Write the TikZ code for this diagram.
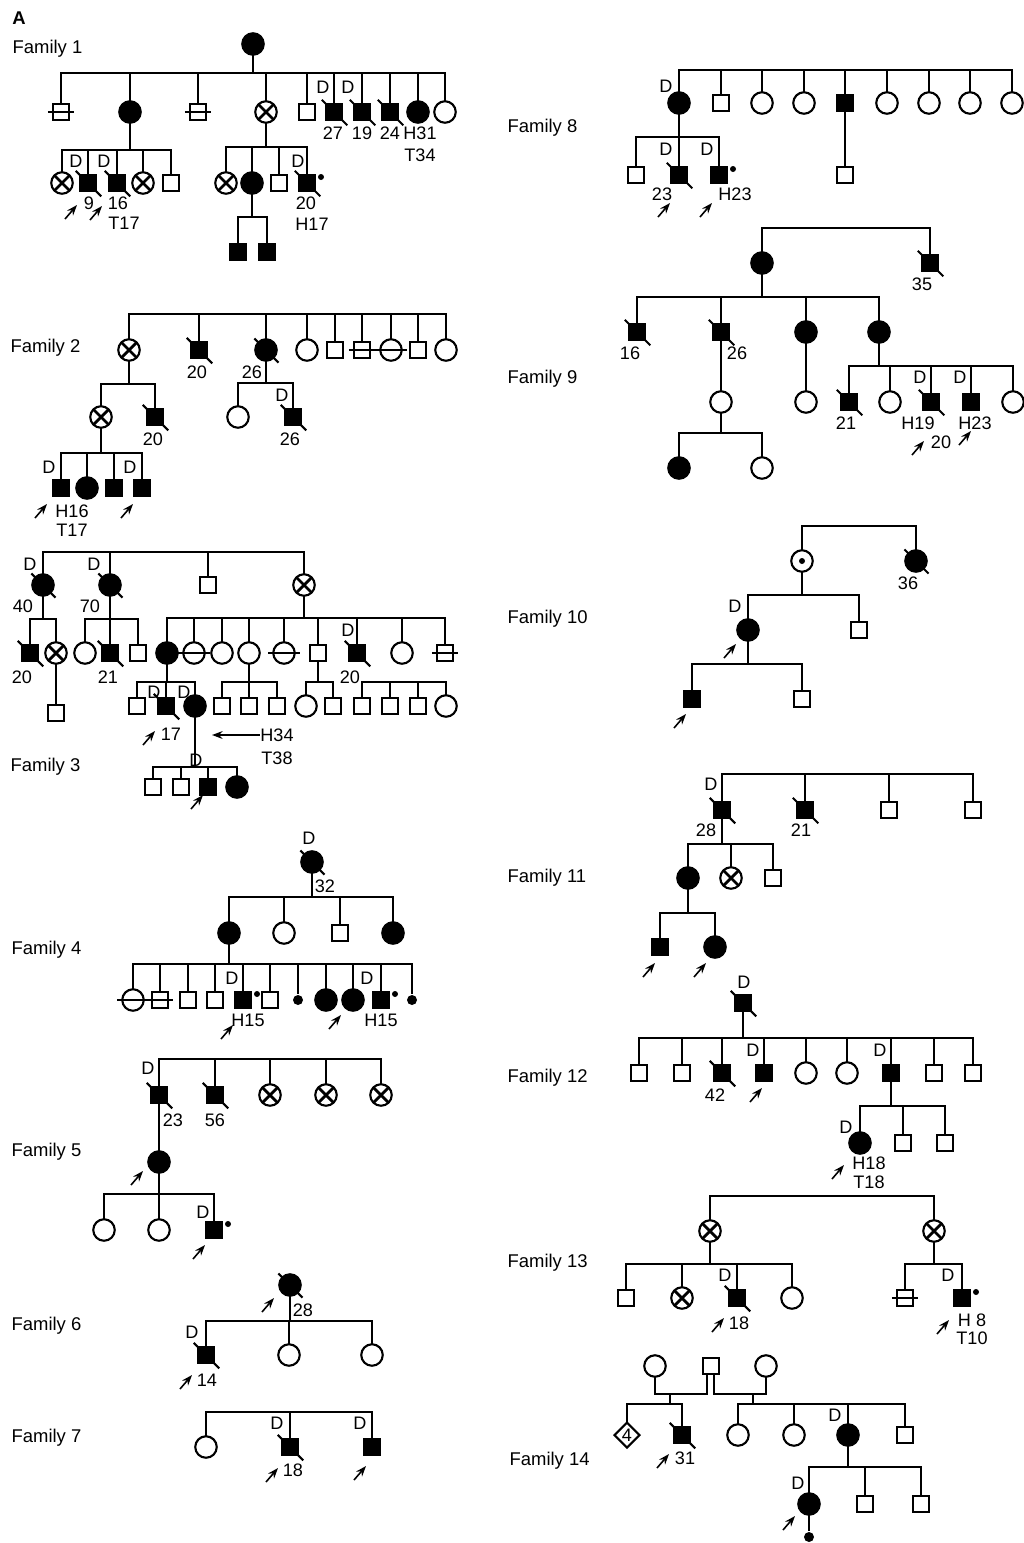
\documentclass[tikz,border=0pt]{standalone}
\usepackage{fontspec}
\setmainfont{Liberation Sans}
\usepackage{tikz}
\usetikzlibrary{arrows.meta, shapes.geometric}

\newcommand{\lblfont}{\fontsize{10.3}{12}\selectfont}

\tikzset{
	ind/.style={draw, line width=1.2pt, inner sep=0pt, outer sep=0pt},
	ma/.style={ind, rectangle, minimum size=0.33cm},
	maf/.style={ma, fill=black},
	fe/.style={ind, circle, minimum size=0.43cm},
	fef/.style={fe, fill=black},
	car/.style={fe, path picture={\draw[line width=1.6pt]
		(path picture bounding box.north west) -- (path picture bounding box.south east)
		(path picture bounding box.south west) -- (path picture bounding box.north east);}},
	obl/.style={fe, path picture={\fill (path picture bounding box.center) circle (0.06cm);}},
	misc/.style={circle, fill=black, inner sep=0pt, minimum size=0.2cm},
	dia/.style={ind, diamond, minimum size=0.5cm, font=\lblfont},
	lab/.style={inner sep=0pt, font=\lblfont},
	fam/.style={anchor=west, inner sep=0pt, font=\fontsize{10.5}{12}\selectfont},
	pb/.style={-{Stealth[length=6pt, width=4.4pt]}, line width=0.9pt},
	dtick/.style={line width=1.2pt},
	dstrike/.style={line width=1.2pt},
}

\begin{document}
\begin{tikzpicture}[x=0.02cm, y=-0.02cm, line width=0.7pt]
\useasboundingbox (0,0) rectangle (1024,1543);
\node[inner sep=0pt, font=\bfseries\fontsize{10.5}{12}\selectfont] (panel) at (19,18) {A};

% Family 1
\node[fam] (fam1) at (12,49) {Family 1};
\node[fef] (f1a) at (253,44) {};
\foreach \i/\x/\st in {1/61/ma, 2/130/fef, 3/198/ma, 4/266/car, 5/307/ma, 6/334/maf, 7/362/maf, 8/390/maf, 9/418/fef, 10/445/fe}
	\node[\st] (f1b\i) at (\x,112) {};
\coordinate (f1s1) at (253,73);
\draw (f1a) -- (f1s1);
\foreach \i in {1,...,10} \draw (f1s1) -| (f1b\i);
\foreach \i/\x/\st in {1/62/car, 2/88/maf, 3/117/maf, 4/143/car, 5/171/ma, 6/226/car, 7/252/fef, 8/279/ma, 9/307/maf}
	\node[\st] (f1c\i) at (\x,183) {};
\coordinate (f1s2) at (130,150);
\coordinate (f1s3) at (266,147);
\draw (f1b2) -- (f1s2) (f1b4) -- (f1s3);
\foreach \i in {1,...,5} \draw (f1s2) -| (f1c\i);
\foreach \i in {6,...,9} \draw (f1s3) -| (f1c\i);
\foreach \i/\x in {1/238, 2/267} \node[maf] (f1d\i) at (\x,252) {};
\coordinate (f1s4) at (252,217);
\draw (f1c7) -- (f1s4);
\foreach \i in {1,2} \draw (f1s4) -| (f1d\i);
\foreach \x/\y [count=\k] in {323/87, 348/87, 76/161, 104/161, 298/161}
	\node[lab] (f1D\k) at (\x,\y) {D};
\foreach \x/\y/\tx [count=\k] in {333/133/27, 362/133/19, 390/133/24, 420/133/H31, 420/155/T34, 89/203/9, 118/203/16, 124/223/T17, 306/203/20, 312/224/H17}
	\node[lab] (f1t\k) at (\x,\y) {\tx};
\foreach \x/\y in {71/212, 96/213} \draw[pb] ({\x-6},{\y+7}) -- ({\x+6},{\y-7});

% Family 2
\node[fam] (fam2) at (10,348) {Family 2};
\foreach \i/\x/\st in {1/129/car, 2/199/maf, 3/266/fef, 4/307/fe, 5/335/ma, 6/362/ma, 7/391/fe, 8/418/ma, 9/446/fe}
	\node[\st] (f2a\i) at (\x,350) {};
\coordinate (f2s1) at (287,314);
\foreach \i in {1,...,9} \draw (f2s1) -| (f2a\i);
\foreach \i/\x/\st in {1/101/car, 2/155/maf, 3/238/fe, 4/293/maf}
	\node[\st] (f2b\i) at (\x,417) {};
\coordinate (f2s2) at (129,384);
\coordinate (f2s3) at (266,383);
\draw (f2a1) -- (f2s2) (f2a3) -- (f2s3);
\foreach \i in {1,2} \draw (f2s2) -| (f2b\i);
\foreach \i in {3,4} \draw (f2s3) -| (f2b\i);
\foreach \i/\x/\st in {1/61/maf, 2/87/fef, 3/114/maf, 4/142/maf}
	\node[\st] (f2c\i) at (\x,488) {};
\coordinate (f2s4) at (101,453);
\draw (f2b1) -- (f2s4);
\foreach \i in {1,...,4} \draw (f2s4) -| (f2c\i);
\foreach \x/\y [count=\k] in {49/467, 130/467, 282/395}
	\node[lab] (f2D\k) at (\x,\y) {D};
\foreach \x/\y/\tx [count=\k] in {197/372/20, 252/372/26, 153/439/20, 290/439/26, 72/511/H16, 72/530/T17}
	\node[lab] (f2t\k) at (\x,\y) {\tx};
\foreach \x/\y in {41/511, 127/511} \draw[pb] ({\x-6},{\y+7}) -- ({\x+6},{\y-7});

% Family 3
\node[fam] (fam3) at (10,767) {Family 3};
\foreach \i/\x/\st in {1/43/fef, 2/110/fef, 3/208/ma, 4/304/car}
	\node[\st] (f3a\i) at (\x,585) {};
\coordinate (f3s1) at (174,552);
\foreach \i in {1,...,4} \draw (f3s1) -| (f3a\i);
\foreach \i/\x/\st in {1/30/maf, 2/56/car, 3/85/fe, 4/110/maf, 5/138/ma, 6/167/fef, 7/194/fe, 8/222/fe, 9/249/fe, 10/284/fe, 11/318/ma, 12/357/maf, 13/402/fe, 14/445/ma}
	\node[\st] (f3b\i) at (\x,653) {};
\coordinate (f3s2) at (43,619);
\coordinate (f3s3) at (110,619);
\coordinate (f3s4) at (304,618);
\draw (f3a1) -- (f3s2) (f3a2) -- (f3s3) (f3a4) -- (f3s4);
\foreach \i in {1,2} \draw (f3s2) -| (f3b\i);
\foreach \i in {3,4,5} \draw (f3s3) -| (f3b\i);
\foreach \i in {6,...,14} \draw (f3s4) -| (f3b\i);
\node[ma] (f3c1) at (56,713) {};
\draw (f3b2) -- (f3c1);
\foreach \i/\x/\st in {2/137/ma, 3/166/maf, 4/195/fef, 5/222/ma, 6/249/ma, 7/277/ma, 8/306/fe, 9/333/ma, 10/362/ma, 11/390/ma, 12/418/ma, 13/446/fe}
	\node[\st] (f3c\i) at (\x,706) {};
\coordinate (f3s5) at (167,682);
\coordinate (f3s6) at (249,682);
\coordinate (f3s7) at (318,682);
\coordinate (f3s8) at (404,682);
\draw (f3b6) -- (f3s5) (f3b9) -- (f3s6) (f3b11) -- (f3s7);
\foreach \i in {2,3,4} \draw (f3s5) -| (f3c\i);
\foreach \i in {5,6,7} \draw (f3s6) -| (f3c\i);
\foreach \i in {8,9} \draw (f3s7) -| (f3c\i);
\foreach \i in {10,...,13} \draw (f3s8) -| (f3c\i);
\foreach \i/\x/\st in {1/153/ma, 2/181/ma, 3/208/maf, 4/237/fef}
	\node[\st] (f3d\i) at (\x,787) {};
\coordinate (f3s9) at (195,767);
\draw (f3c4) -- (f3s9);
\foreach \i in {1,...,4} \draw (f3s9) -| (f3d\i);
\foreach \x/\y [count=\k] in {30/564, 94/564, 348/630, 154/692, 184/692, 196/760}
	\node[lab] (f3D\k) at (\x,\y) {D};
\foreach \x/\y/\tx [count=\k] in {23/606/40, 90/606/70, 22/677/20, 108/677/21, 350/677/20, 171/734/17, 277/758/T38}
	\node[lab] (f3t\k) at (\x,\y) {\tx};
\node[lab] (f3h) at (277,735) {H34};
\coordinate (f3tip) at (212,735);
\draw[pb] (f3h) -- (f3tip);
\foreach \x/\y in {149/738, 197/802} \draw[pb] ({\x-6},{\y+7}) -- ({\x+6},{\y-7});

% Family 4
\node[fam] (fam4) at (11,950) {Family 4};
\node[fef] (f4a) at (312,862) {};
\foreach \i/\x/\st in {1/229/fef, 2/284/fe, 3/340/ma, 4/393/fef}
	\node[\st] (f4b\i) at (\x,933) {};
\coordinate (f4s1) at (312,897);
\draw (f4a) -- (f4s1);
\foreach \i in {1,...,4} \draw (f4s1) -| (f4b\i);
\foreach \i/\x/\st in {1/133/fe, 2/160/ma, 3/188/ma, 4/215/ma, 5/243/maf, 6/270/ma, 7/298/misc, 8/326/fef, 9/353/fef, 10/381/maf, 11/412/misc}
	\node[\st] (f4c\i) at (\x,1000) {};
\coordinate (f4s2) at (229,964);
\draw (f4b1) -- (f4s2);
\foreach \i in {1,...,11} \draw (f4s2) -| (f4c\i);
\foreach \x/\y [count=\k] in {309/838, 232/978, 367/978}
	\node[lab] (f4D\k) at (\x,\y) {D};
\foreach \x/\y/\tx [count=\k] in {325/886/32, 248/1020/H15, 381/1020/H15}
	\node[lab] (f4t\k) at (\x,\y) {\tx};
\foreach \x/\y in {227/1032, 335/1022} \draw[pb] ({\x-6},{\y+7}) -- ({\x+6},{\y-7});

% Family 5
\node[fam] (fam5) at (11,1152) {Family 5};
\foreach \i/\x/\st in {1/159/maf, 2/215/maf, 3/270/car, 4/326/car, 5/381/car}
	\node[\st] (f5a\i) at (\x,1095) {};
\coordinate (f5s1) at (270,1059);
\foreach \i in {1,...,5} \draw (f5s1) -| (f5a\i);
\node[fef] (f5b) at (159,1162) {};
\draw (f5a1) -- (f5b);
\foreach \i/\x/\st in {1/104/fe, 2/159/fe, 3/214/maf}
	\node[\st] (f5c\i) at (\x,1230) {};
\coordinate (f5s2) at (159,1194);
\draw (f5b) -- (f5s2);
\foreach \i in {1,2,3} \draw (f5s2) -| (f5c\i);
\foreach \x/\y [count=\k] in {148/1068, 203/1212}
	\node[lab] (f5D\k) at (\x,\y) {D};
\foreach \x/\y/\tx [count=\k] in {173/1120/23, 215/1120/56}
	\node[lab] (f5t\k) at (\x,\y) {\tx};
\foreach \x/\y in {137/1178, 199/1252} \draw[pb] ({\x-6},{\y+7}) -- ({\x+6},{\y-7});

% Family 6
\node[fam] (fam6) at (11,1326) {Family 6};
\node[fef] (f6a) at (290,1285) {};
\foreach \i/\x/\st in {1/206/maf, 2/289/fe, 3/372/fe}
	\node[\st] (f6b\i) at (\x,1355) {};
\coordinate (f6s1) at (290,1321);
\draw (f6a) -- (f6s1);
\foreach \i in {1,2,3} \draw (f6s1) -| (f6b\i);
\node[lab] (f6D1) at (192,1332) {D};
\foreach \x/\y/\tx [count=\k] in {303/1310/28, 207/1380/14}
	\node[lab] (f6t\k) at (\x,\y) {\tx};
\foreach \x/\y in {268/1305, 186/1382} \draw[pb] ({\x-6},{\y+7}) -- ({\x+6},{\y-7});

% Family 7
\node[fam] (fam7) at (11,1438) {Family 7};
\foreach \i/\x/\st in {1/206/fe, 2/290/maf, 3/372/maf}
	\node[\st] (f7a\i) at (\x,1447) {};
\coordinate (f7s1) at (290,1412);
\foreach \i in {1,2,3} \draw (f7s1) -| (f7a\i);
\foreach \x/\y [count=\k] in {277/1423, 360/1423}
	\node[lab] (f7D\k) at (\x,\y) {D};
\node[lab] (f7t1) at (293,1470) {18};
\foreach \x/\y in {272/1475, 360/1473} \draw[pb] ({\x-6},{\y+7}) -- ({\x+6},{\y-7});

% Family 8
\node[fam] (fam8) at (507,128) {Family 8};
\foreach \i/\x/\st in {1/679/fef, 2/721/ma, 3/762/fe, 4/804/fe, 5/845/maf, 6/887/fe, 7/929/fe, 8/970/fe, 9/1012/fe}
	\node[\st] (f8a\i) at (\x,103) {};
\coordinate (f8s1) at (845,70);
\foreach \i in {1,...,9} \draw (f8s1) -| (f8a\i);
\foreach \i/\x/\st in {1/636/ma, 2/679/maf, 3/719/maf, 4/845/ma}
	\node[\st] (f8b\i) at (\x,175) {};
\coordinate (f8s2) at (679,137);
\draw (f8a1) -- (f8s2) (f8a5) -- (f8b4);
\foreach \i in {1,2,3} \draw (f8s2) -| (f8b\i);
\foreach \x/\y [count=\k] in {666/86, 666/149, 707/149}
	\node[lab] (f8D\k) at (\x,\y) {D};
\foreach \x/\y/\tx [count=\k] in {662/194/23, 735/194/H23}
	\node[lab] (f8t\k) at (\x,\y) {\tx};
\foreach \x/\y in {664/210, 706/210} \draw[pb] ({\x-6},{\y+7}) -- ({\x+6},{\y-7});

% Family 9
\node[fam] (fam9) at (507,379) {Family 9};
\foreach \i/\x/\st in {1/762/fef, 2/930/maf}
	\node[\st] (f9a\i) at (\x,263) {};
\coordinate (f9s1) at (846,228);
\foreach \i in {1,2} \draw (f9s1) -| (f9a\i);
\foreach \i/\x/\st in {1/637/maf, 2/721/maf, 3/806/fef, 4/879/fef}
	\node[\st] (f9b\i) at (\x,332) {};
\coordinate (f9s2) at (762,297);
\draw (f9a1) -- (f9s2);
\foreach \i in {1,...,4} \draw (f9s2) -| (f9b\i);
\foreach \i/\x/\st in {1/721/fe, 2/806/fe, 3/849/maf, 4/890/fe, 5/931/maf, 6/971/maf, 7/1013/fe}
	\node[\st] (f9c\i) at (\x,402) {};
\coordinate (f9s3) at (879,366);
\draw (f9b2) -- (f9c1) (f9b3) -- (f9c2) (f9b4) -- (f9s3);
\foreach \i in {3,...,7} \draw (f9s3) -| (f9c\i);
\foreach \i/\x/\st in {1/679/fef, 2/762/fe}
	\node[\st] (f9d\i) at (\x,468) {};
\coordinate (f9s4) at (721,433);
\draw (f9c1) -- (f9s4);
\foreach \i in {1,2} \draw (f9s4) -| (f9d\i);
\foreach \x/\y [count=\k] in {920/377, 960/377}
	\node[lab] (f9D\k) at (\x,\y) {D};
\foreach \x/\y/\tx [count=\k] in {922/284/35, 630/353/16, 737/353/26, 846/423/21, 918/423/H19, 975/423/H23, 941/442/20}
	\node[lab] (f9t\k) at (\x,\y) {\tx};
\foreach \x/\y in {918/448, 965/438} \draw[pb] ({\x-6},{\y+7}) -- ({\x+6},{\y-7});

% Family 10
\node[fam] (fam10) at (507,619) {Family 10};
\foreach \i/\x/\st in {1/802/obl, 2/916/fef}
	\node[\st] (f10a\i) at (\x,561) {};
\coordinate (f10s1) at (859,526);
\foreach \i in {1,2} \draw (f10s1) -| (f10a\i);
\foreach \i/\x/\st in {1/748/fef, 2/859/ma}
	\node[\st] (f10b\i) at (\x,630) {};
\coordinate (f10s2) at (802,595);
\draw (f10a1) -- (f10s2);
\foreach \i in {1,2} \draw (f10s2) -| (f10b\i);
\foreach \i/\x/\st in {1/692/maf, 2/802/ma}
	\node[\st] (f10c\i) at (\x,699) {};
\coordinate (f10s3) at (748,664);
\draw (f10b1) -- (f10s3);
\foreach \i in {1,2} \draw (f10s3) -| (f10c\i);
\node[lab] (f10D1) at (735,606) {D};
\node[lab] (f10t1) at (908,583) {36};
\foreach \x/\y in {730/651, 680/721} \draw[pb] ({\x-6},{\y+7}) -- ({\x+6},{\y-7});

% Family 11
\node[fam] (fam11) at (507,878) {Family 11};
\foreach \i/\x/\st in {1/722/maf, 2/805/maf, 3/889/ma, 4/973/ma}
	\node[\st] (f11a\i) at (\x,810) {};
\coordinate (f11s1) at (847,774);
\foreach \i in {1,...,4} \draw (f11s1) -| (f11a\i);
\foreach \i/\x/\st in {1/688/fef, 2/731/car, 3/773/ma}
	\node[\st] (f11b\i) at (\x,878) {};
\coordinate (f11s2) at (722,844);
\draw (f11a1) -- (f11s2);
\foreach \i in {1,2,3} \draw (f11s2) -| (f11b\i);
\foreach \i/\x/\st in {1/660/maf, 2/715/fef}
	\node[\st] (f11c\i) at (\x,947) {};
\coordinate (f11s3) at (688,913);
\draw (f11b1) -- (f11s3);
\foreach \i in {1,2} \draw (f11s3) -| (f11c\i);
\node[lab] (f11D1) at (711,784) {D};
\foreach \x/\y/\tx [count=\k] in {706/830/28, 801/830/21}
	\node[lab] (f11t\k) at (\x,\y) {\tx};
\foreach \x/\y in {649/970, 700/970} \draw[pb] ({\x-6},{\y+7}) -- ({\x+6},{\y-7});

% Family 12
\node[fam] (fam12) at (507,1078) {Family 12};
\node[maf] (f12a) at (743,1003) {};
\foreach \i/\x/\st in {1/639/ma, 2/682/ma, 3/722/maf, 4/764/maf, 5/806/fe, 6/847/fe, 7/891/maf, 8/934/ma, 9/973/ma}
	\node[\st] (f12b\i) at (\x,1073) {};
\coordinate (f12s1) at (743,1038);
\draw (f12a) -- (f12s1);
\foreach \i in {1,...,9} \draw (f12s1) -| (f12b\i);
\foreach \i/\x/\st in {1/860/fef, 2/903/ma, 3/945/ma}
	\node[\st] (f12c\i) at (\x,1143) {};
\coordinate (f12s2) at (891,1106);
\draw (f12b7) -- (f12s2);
\foreach \i in {1,2,3} \draw (f12s2) -| (f12c\i);
\foreach \x/\y [count=\k] in {744/982, 753/1050, 880/1050, 846/1127}
	\node[lab] (f12D\k) at (\x,\y) {D};
\foreach \x/\y/\tx [count=\k] in {715/1095/42, 869/1163/H18, 869/1182/T18}
	\node[lab] (f12t\k) at (\x,\y) {\tx};
\foreach \x/\y in {756/1095, 838/1172} \draw[pb] ({\x-6},{\y+7}) -- ({\x+6},{\y-7});

% Family 13
\node[fam] (fam13) at (507,1263) {Family 13};
\foreach \i/\x/\st in {1/710/car, 2/934/car}
	\node[\st] (f13a\i) at (\x,1231) {};
\coordinate (f13s1) at (822,1196);
\foreach \i in {1,2} \draw (f13s1) -| (f13a\i);
\foreach \i/\x/\st in {1/626/ma, 2/682/car, 3/737/maf, 4/792/fe, 5/905/ma, 6/962/maf}
	\node[\st] (f13b\i) at (\x,1298) {};
\coordinate (f13s2) at (710,1264);
\coordinate (f13s3) at (934,1264);
\draw (f13a1) -- (f13s2) (f13a2) -- (f13s3);
\foreach \i in {1,...,4} \draw (f13s2) -| (f13b\i);
\foreach \i in {5,6} \draw (f13s3) -| (f13b\i);
\foreach \x/\y [count=\k] in {725/1275, 948/1275}
	\node[lab] (f13D\k) at (\x,\y) {D};
\foreach \x/\y/\tx [count=\k] in {739/1323/18, 972/1320/H 8, 972/1338/T10}
	\node[lab] (f13t\k) at (\x,\y) {\tx};
\foreach \x/\y in {718/1325, 943/1327} \draw[pb] ({\x-6},{\y+7}) -- ({\x+6},{\y-7});

% Family 14
\node[fam] (fam14) at (509,1461) {Family 14};
\foreach \i/\x/\st in {1/655/fe, 2/711/ma, 3/766/fe}
	\node[\st] (f14a\i) at (\x,1366) {};
\coordinate (f14m1) at (670,1394);
\coordinate (f14m2) at (753,1394);
\draw (f14a1) |- (f14m1) -| ([shift={(-4,0)}]f14a2.south);
\draw (f14a3) |- (f14m2) -| ([shift={(3,0)}]f14a2.south);
\node[dia] (f14b1) at (627,1435) {4};
\foreach \i/\x/\st in {2/682/maf, 3/738/fe, 4/794/fe, 5/848/fef, 6/905/ma}
	\node[\st] (f14b\i) at (\x,1435) {};
\coordinate (f14s1) at (670,1404);
\coordinate (f14s2) at (753,1404);
\draw (f14m1) -- (f14s1) (f14m2) -- (f14s2);
\foreach \i in {1,2} \draw (f14s1) -| (f14b\i);
\foreach \i in {3,...,6} \draw (f14s2) -| (f14b\i);
\foreach \i/\x/\st in {1/809/fef, 2/865/ma, 3/921/ma}
	\node[\st] (f14c\i) at (\x,1504) {};
\coordinate (f14s3) at (848,1467);
\draw (f14b5) -- (f14s3);
\foreach \i in {1,2,3} \draw (f14s3) -| (f14c\i);
\node[misc] (f14d) at (809,1537) {};
\draw (f14c1) -- (f14d);
\foreach \x/\y [count=\k] in {835/1415, 798/1483}
	\node[lab] (f14D\k) at (\x,\y) {D};
\node[lab] (f14t1) at (685,1458) {31};
\foreach \x/\y in {663/1461, 789/1523} \draw[pb] ({\x-6},{\y+7}) -- ({\x+6},{\y-7});

% deceased
\foreach \nd in {f1b6, f1b7, f1b8, f1c2, f1c3, f1c9, f2a2, f2a3, f2b2, f2b4, f3a1, f3a2, f3b1, f3b4, f3b12, f3c3, f4a, f5a1, f5a2, f6a, f6b1, f7a2, f8b2, f9a2, f9b1, f9b2, f9c3, f9c5, f10a2, f11a1, f11a2, f12a, f12b3, f13b3, f14b2}
	\draw[dtick] ([shift={(-4,-4)}]\nd.north west) -- ([shift={(5,5)}]\nd.south east);
% struck through
\foreach \nd in {f1b1, f1b3, f2a6, f2a7, f3b7, f3b10, f3b14, f4c1, f4c2, f13b5}
	\draw[dstrike] ([shift={(-5,0)}]\nd.west) -- ([shift={(5,0)}]\nd.east);
% dot beside symbol
\foreach \nd in {f1c9, f4c5, f4c10, f5c3, f8b3, f13b6}
	\fill ([shift={(14,-6)}]\nd.center) circle (0.06cm);
\end{tikzpicture}
\end{document}
